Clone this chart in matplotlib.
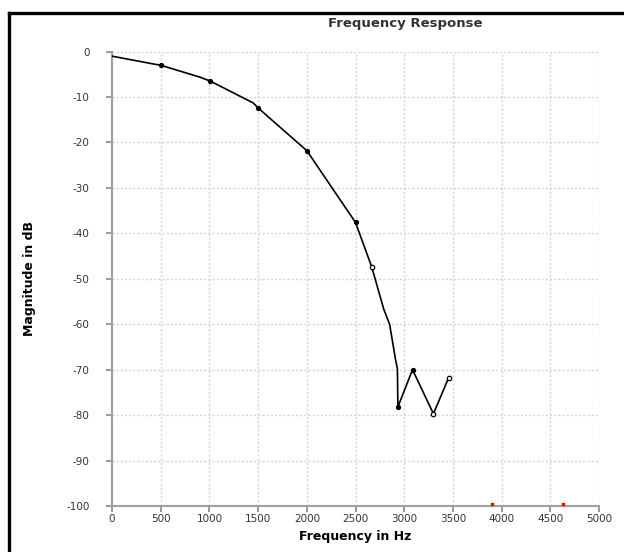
#Program to redraw a filter frequency response chart.
import matplotlib
matplotlib.use("Agg")
import matplotlib.pyplot as plt
from matplotlib.lines import Line2D

#Response curve (Hz, dB).
freq_hz = [0, 420, 500, 900, 1010, 1450, 1500, 2000, 2500, 2665, 2790,
           2850, 2910, 2930, 2935, 3085, 3300, 3455]
mag_db = [-1.0, -2.7, -3.0, -5.6, -6.5, -11.3, -12.4, -21.8, -37.6, -47.3,
          -56.7, -60.0, -67.7, -69.8, -78.2, -70.0, -79.7, -71.8]

#Points that carry a small marker.
marker_hz = [500, 1010, 1500, 2000, 2500, 2935, 3085]
marker_db = [-3.0, -6.5, -12.4, -21.8, -37.6, -78.2, -70.0]
open_marker_hz = [2665, 3300, 3455]
open_marker_db = [-47.3, -79.7, -71.8]

#Stray red marks near the bottom axis.
red_hz = [3900, 4630]
red_db = [-99.5, -99.5]

x_ticks = [0, 500, 1000, 1500, 2000, 2500, 3000, 3500, 4000, 4500, 5000]
y_ticks = [0, -10, -20, -30, -40, -50, -60, -70, -80, -90, -100]


def main():
    """Mainline logic for the frequency response chart."""
    plt.rcParams['axes.unicode_minus'] = False
    fig = plt.figure(figsize=(6.24, 5.52), dpi=100)
    ax = fig.add_axes([0.1795, 0.0833, 0.7805, 0.8232])

    #Curve and markers.
    ax.plot(freq_hz, mag_db, color="black", linewidth=1.2, zorder=3)
    ax.plot(marker_hz, marker_db, linestyle="none", marker="o",
            markersize=2.8, color="black", zorder=4)
    ax.plot(open_marker_hz, open_marker_db, linestyle="none", marker="o",
            markersize=3.2, markerfacecolor="white", markeredgecolor="black",
            markeredgewidth=0.9, zorder=4)
    ax.plot(red_hz, red_db, linestyle="none", marker="s", markersize=2,
            color="red", zorder=4)

    #Axis limits and ticks.
    ax.set_xlim(0, 5000)
    ax.set_ylim(-100, 0)
    ax.set_xticks(x_ticks)
    ax.set_yticks(y_ticks)
    ax.tick_params(labelsize=7.5, labelcolor="#333333", color="#888888",
                   length=4, width=1.2)
    ax.tick_params(axis="x", pad=2)
    ax.tick_params(axis="y", pad=12)

    #Dotted grid.
    ax.grid(True, linestyle=(0, (1.5, 1.5)), color="#d4d4d4", linewidth=1)
    ax.set_axisbelow(True)

    #Only left and bottom spines, gray.
    for side in ["top", "right"]:
        ax.spines[side].set_visible(False)
    for side in ["left", "bottom"]:
        ax.spines[side].set_color("#a0a0a0")
        ax.spines[side].set_linewidth(1.5)

    #Labels and title.
    ax.set_xlabel("Frequency in Hz", fontsize=9, fontweight="bold",
                  labelpad=4)
    ax.set_ylabel("Magnitude in dB", fontsize=9, fontweight="bold",
                  labelpad=22)
    fig.text(0.65, 0.958, "Frequency Response", fontsize=9.5,
             fontweight="bold", color="#333333", ha="center", va="center")

    #Black frame around the picture (left and top edges show).
    left = 9 / 624
    top = 1 - 13 / 552
    fig.add_artist(Line2D([left, left], [0, top], transform=fig.transFigure,
                          color="black", linewidth=2.4))
    fig.add_artist(Line2D([left, 1], [top, top], transform=fig.transFigure,
                          color="black", linewidth=2.4))

    fig.savefig("out.png", dpi=100)


if __name__ == '__main__':
    main()
